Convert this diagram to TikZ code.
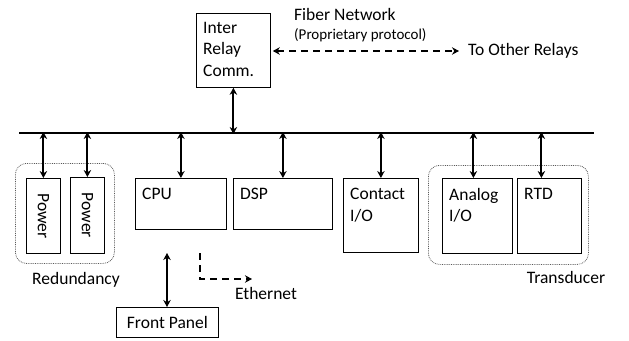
\documentclass[tikz,border=0pt]{standalone}
\usepackage{fontspec}
\setmainfont{Carlito}
\usetikzlibrary{arrows.meta}
\newcommand{\lblfont}{\fontsize{17.5}{21.5}\selectfont}
\newcommand{\smallfont}{\fontsize{15}{17}\selectfont}
\begin{document}
\begin{tikzpicture}[x=1pt,y=-1pt,
  box/.style={draw, line width=0.8pt, inner sep=0pt, anchor=north west},
  boxlbl/.style={anchor=north west, align=left, inner sep=0pt, font=\lblfont},
  txt/.style={inner sep=0pt, font=\lblfont},
  tip/.style={},
  arr/.style={{Stealth[length=7pt,width=7.5pt]}-{Stealth[length=7pt,width=7.5pt]}, line width=2pt},
  dashline/.style={line width=2pt, dash pattern=on 7pt off 5pt},
  group/.style={draw=black!65, line width=0.8pt, densely dotted, rounded corners=11pt, inner sep=0pt, anchor=north west}]
\useasboundingbox (0,0) rectangle (629,340);

% bus
\coordinate (busL) at (19,133);
\coordinate (busR) at (594,133);
\draw[line width=2.6pt] (busL) -- (busR);

% inter relay comm
\node[box, minimum width=74, minimum height=74] (irc) at (196,13) {};
\node[boxlbl] (irct) at ([shift={(7,9)}]irc.north west) {Inter\\Relay\\Comm.};
\draw[arr] (irc.south) -- ([yshift=-1]irc.south |- busL);

% fiber network
\node[txt, anchor=west] (fiber) at (294,14) {Fiber Network};
\node[txt, anchor=west, font=\smallfont] (prop) at (294,35) {(Proprietary protocol)};
\node[txt, anchor=west] (other) at (468,51) {To Other Relays};
\draw[dashline, {Stealth[length=7pt,width=7.5pt]}-{Stealth[length=7pt,width=7.5pt]}]
  ([xshift=2]irc.east |- other.west) -- ([xshift=-9]other.west);

% redundancy group
\node[group, minimum width=99, minimum height=100] (red) at (15,163) {};
\node[box, minimum width=34, minimum height=75] (p1) at (26,178) {};
\node[box, minimum width=34, minimum height=76] (p2) at (70,177) {};
\node[txt, rotate=-90] (p1t) at (p1.center) {Power};
\node[txt, rotate=-90] (p2t) at (p2.center) {Power};
\draw[arr] ([yshift=1]p1.north |- busL) -- (p1.north);
\draw[arr] ([yshift=1]p2.north |- busL) -- (p2.north);
\node[txt] (redt) at (76,280) {Redundancy};

% CPU, DSP
\node[box, minimum width=91, minimum height=51] (cpu) at (135,178) {};
\node[boxlbl] (cput) at ([shift={(7,10)}]cpu.north west) {CPU};
\draw[arr] ([yshift=1]cpu.north |- busL) -- (cpu.north);
\node[box, minimum width=99, minimum height=51] (dsp) at (233,178) {};
\node[boxlbl] (dspt) at ([shift={(7,10)}]dsp.north west) {DSP};
\draw[arr] ([yshift=1]dsp.north |- busL) -- (dsp.north);

% front panel
\node[box, minimum width=102, minimum height=30] (fp) at (116,307) {};
\node[txt] (fpt) at (fp.center) {Front Panel};
\coordinate (fptop) at (167,253);
\draw[arr] (fptop) -- (fptop |- fp.north);

% ethernet
\coordinate (e1) at (200,253);
\coordinate (e2) at (200,279);
\coordinate (e3) at (252,279);
\draw[dashline, -{Stealth[length=7pt,width=7.5pt]}] (e1) -- (e2) -- (e3);
\node[txt] (eth) at (266,293) {Ethernet};

% contact I/O
\node[box, minimum width=75, minimum height=74] (cio) at (343,178) {};
\node[boxlbl] (ciot) at ([shift={(7,10)}]cio.north west) {Contact\\I/O};
\draw[arr] ([yshift=1]cio.north |- busL) -- (cio.north);

% transducer group
\node[group, minimum width=160, minimum height=99] (trans) at (428,165) {};
\node[box, minimum width=70, minimum height=75] (aio) at (442,178) {};
\node[boxlbl] (aiot) at ([shift={(7,10)}]aio.north west) {Analog\\I/O};
\draw[arr] ([yshift=1,xshift=-4]aio.north |- busL) -- ([xshift=-4]aio.north);
\node[box, minimum width=64, minimum height=75] (rtd) at (517,178) {};
\node[boxlbl] (rtdt) at ([shift={(7,10)}]rtd.north west) {RTD};
\draw[arr] ([yshift=1,xshift=-8]rtd.north |- busL) -- ([xshift=-8]rtd.north);
\node[txt] (transt) at (566,277) {Transducer};
\end{tikzpicture}
\end{document}
